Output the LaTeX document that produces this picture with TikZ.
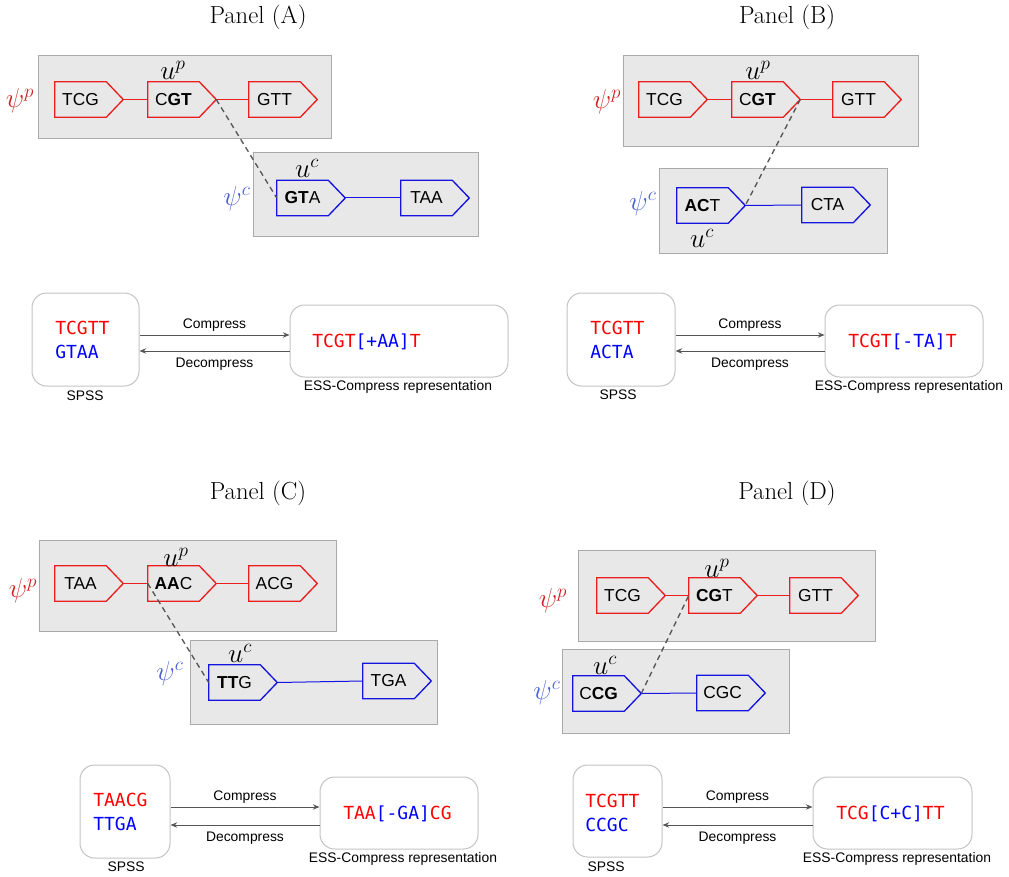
\RequirePackage{fix-cm}
\documentclass[tikz,border=0pt]{standalone}
\usepackage{fontspec}
\newfontfamily\arialf{Liberation Sans}
\newfontfamily\monof{DejaVu Sans Mono}
\usetikzlibrary{arrows.meta,calc}
\definecolor{pred}{RGB}{235,30,30}
\definecolor{pblue}{RGB}{20,20,225}
\definecolor{psired}{RGB}{205,35,35}
\definecolor{psiblue}{RGB}{75,95,215}
\definecolor{boxgray}{RGB}{232,232,232}
\definecolor{boxline}{RGB}{170,170,170}
\definecolor{rndline}{RGB}{195,195,195}
\definecolor{arrgray}{RGB}{85,85,85}
\definecolor{tred}{RGB}{255,0,0}
\definecolor{tblue}{RGB}{0,0,255}
\tikzset{
  grp/.style={fill=boxgray,draw=boxline,line width=0.75pt},
  pbody/.style={rectangle,minimum width=38.25pt,minimum height=26.25pt,inner sep=0pt,font=\arialf\fontsize{13}{15}\selectfont},
  pline/.style={line width=1pt,line join=miter},
  conn/.style={line width=0.75pt},
  dashline/.style={draw=arrgray,line width=1pt,dash pattern=on 4pt off 3pt},
  titlef/.style={font=\fontsize{18.5}{22}\selectfont},
  mathlbl/.style={font=\fontsize{20.5}{24}\selectfont,inner sep=0pt},
  rbox/.style={draw=rndline,line width=0.75pt,rounded corners=11pt},
  seqtxt/.style={anchor=west,align=left,inner sep=0pt,font=\monof\fontsize{13.5}{18}\selectfont},
  lbl/.style={font=\arialf\fontsize{10.4}{12}\selectfont,inner sep=0pt},
  arr/.style={draw=arrgray,line width=0.75pt,-{Stealth[length=5pt,width=4pt]}},
}
\newcommand{\pent}[4]{%
  \node[pbody] (#1) at (#2) {#4};
  \coordinate (#1-tip) at ([xshift=12.75pt]#1.east);
  \draw[#3,pline] (#1.north west) -- (#1.north east) -- (#1-tip) -- (#1.south east) -- (#1.south west) -- cycle;
}
\begin{document}
\begin{tikzpicture}[x=0.75pt,y=-0.75pt]
\useasboundingbox (0,0) rectangle (1009,877);
% ---------------- Panel A ----------------
\node[titlef] (tA) at (258,17) {Panel (A)};
\fill[grp] (38,56) rectangle (331,139);
\fill[grp] (253,153) rectangle (478,237);
\pent{a1}{80.5,99.5}{pred}{TCG}
\pent{a2}{173.5,99.5}{pred}{C\textbf{GT}}
\pent{a3}{274.5,99.5}{pred}{GTT}
\pent{a4}{302.5,198}{pblue}{\textbf{GT}A}
\pent{a5}{426.5,198}{pblue}{TAA}
\draw[pred,conn] (a1-tip) -- (a2.west);
\draw[pred,conn] (a2-tip) -- (a3.west);
\draw[pblue,conn] (a4-tip) -- (a5.west);
\draw[dashline] (a2-tip) -- (a4.west);
\node[mathlbl] (aup) at (173,70) {$u^p$};
\node[mathlbl] (auc) at (307,168) {$u^c$};
\node[mathlbl,text=psired] (apsip) at (20,101) {$\psi^p$};
\node[mathlbl,text=psiblue] (apsic) at (237,199) {$\psi^c$};
\node[rbox,minimum width=80.25pt,minimum height=69.75pt] (aS) at (85.5,339.5) {};
\node[seqtxt] (aSt) at (55,340) {\textcolor{tred}{TCGTT}\\\textcolor{tblue}{GTAA}};
\node[rbox,minimum width=163.5pt,minimum height=54pt] (aE) at (399,341) {};
\node[seqtxt] (aEt) at (312,342) {\textcolor{tred}{TCGT}\textcolor{tblue}{[+AA]}\textcolor{tred}{T}};
\draw[arr] (aS.east |- 0,335) -- node[lbl,above=2pt] (ac) {Compress} (aE.west |- 0,335);
\draw[arr] (aE.west |- 0,351) -- node[lbl,below=4.5pt] (ad) {Decompress} (aS.east |- 0,351);
\node[lbl] (aSl) at (85,396) {SPSS};
\node[lbl] (aEl) at (398,387) {ESS-Compress representation};
% ---------------- Panel B ----------------
\node[titlef] (tB) at (787,17) {Panel (B)};
\fill[grp] (623,56) rectangle (918,147);
\fill[grp] (659,169) rectangle (887,253);
\pent{b1}{664.5,99.5}{pred}{TCG}
\pent{b2}{757.5,99.5}{pred}{C\textbf{GT}}
\pent{b3}{858.5,99.5}{pred}{GTT}
\pent{b4}{702.5,205.5}{pblue}{\textbf{AC}T}
\pent{b5}{827.5,205}{pblue}{CTA}
\draw[pred,conn] (b1-tip) -- (b2.west);
\draw[pred,conn] (b2-tip) -- (b3.west);
\draw[pblue,conn] (b4-tip) -- (b5.west);
\draw[dashline] (b2-tip) -- (b4-tip);
\node[mathlbl] (bup) at (758,70) {$u^p$};
\node[mathlbl] (buc) at (702,238) {$u^c$};
\node[mathlbl,text=psired] (bpsip) at (607,102) {$\psi^p$};
\node[mathlbl,text=psiblue] (bpsic) at (643,204) {$\psi^c$};
\node[rbox,minimum width=81pt,minimum height=69.75pt] (bS) at (621,339.5) {};
\node[seqtxt] (bSt) at (590,340) {\textcolor{tred}{TCGTT}\\\textcolor{tblue}{ACTA}};
\node[rbox,minimum width=118.5pt,minimum height=54pt] (bE) at (904,341) {};
\node[seqtxt] (bEt) at (848,342) {\textcolor{tred}{TCGT}\textcolor{tblue}{[-TA]}\textcolor{tred}{T}};
\draw[arr] (bS.east |- 0,335) -- node[lbl,above=2pt] (bc) {Compress} (bE.west |- 0,335);
\draw[arr] (bE.west |- 0,351) -- node[lbl,below=4.5pt] (bd) {Decompress} (bS.east |- 0,351);
\node[lbl] (bSl) at (618,395) {SPSS};
\node[lbl] (bEl) at (909,387) {ESS-Compress representation};
% ---------------- Panel C ----------------
\node[titlef] (tC) at (258,493) {Panel (C)};
\fill[grp] (39,540) rectangle (336,631);
\fill[grp] (190,640) rectangle (437,724);
\pent{c1}{80.5,583.5}{pred}{TAA}
\pent{c2}{173.5,583.5}{pred}{\textbf{AA}C}
\pent{c3}{274.5,583.5}{pred}{ACG}
\pent{c4}{234.5,682.5}{pblue}{\textbf{TT}G}
\pent{c5}{388.5,681}{pblue}{TGA}
\draw[pred,conn] (c1-tip) -- (c2.west);
\draw[pred,conn] (c2-tip) -- (c3.west);
\draw[pblue,conn] (c4-tip) -- (c5.west);
\draw[dashline] (c2.west) -- (c4.west);
\node[mathlbl] (cup) at (176,557) {$u^p$};
\node[mathlbl] (cuc) at (240,653) {$u^c$};
\node[mathlbl,text=psired] (cpsip) at (23,591) {$\psi^p$};
\node[mathlbl,text=psiblue] (cpsic) at (170,674) {$\psi^c$};
\node[rbox,minimum width=67.5pt,minimum height=69.75pt] (cS) at (125,811.5) {};
\node[seqtxt] (cSt) at (93,812) {\textcolor{tred}{TAACG}\\\textcolor{tblue}{TTGA}};
\node[rbox,minimum width=118.5pt,minimum height=54pt] (cE) at (399,813) {};
\node[seqtxt] (cEt) at (343,814) {\textcolor{tred}{TAA}\textcolor{tblue}{[-GA]}\textcolor{tred}{CG}};
\draw[arr] (cS.east |- 0,807) -- node[lbl,above=2pt] (cc) {Compress} (cE.west |- 0,807);
\draw[arr] (cE.west |- 0,825) -- node[lbl,below=4.5pt] (cd) {Decompress} (cS.east |- 0,825);
\node[lbl] (cSl) at (126,867) {SPSS};
\node[lbl] (cEl) at (403,859) {ESS-Compress representation};
% ---------------- Panel D ----------------
\node[titlef] (tD) at (787,493) {Panel (D)};
\fill[grp] (578,550) rectangle (875,641);
\fill[grp] (562,649) rectangle (789,733);
\pent{d1}{622.5,595.5}{pred}{TCG}
\pent{d2}{714.5,595.5}{pred}{\textbf{CG}T}
\pent{d3}{815.5,595.5}{pred}{GTT}
\pent{d4}{598.5,693.5}{pblue}{C\textbf{CG}}
\pent{d5}{722.5,693}{pblue}{CGC}
\draw[pred,conn] (d1-tip) -- (d2.west);
\draw[pred,conn] (d2-tip) -- (d3.west);
\draw[pblue,conn] (d4-tip) -- (d5.west);
\draw[dashline] (d4-tip) -- (d2.west);
\node[mathlbl] (dup) at (717,568) {$u^p$};
\node[mathlbl] (duc) at (605,665) {$u^c$};
\node[mathlbl,text=psired] (dpsip) at (553,601) {$\psi^p$};
\node[mathlbl,text=psiblue] (dpsic) at (547,693) {$\psi^c$};
\node[rbox,minimum width=66.75pt,minimum height=69pt] (dS) at (617.5,811) {};
\node[seqtxt] (dSt) at (585,813) {\textcolor{tred}{TCGTT}\\\textcolor{tblue}{CCGC}};
\node[rbox,minimum width=119.25pt,minimum height=54pt] (dE) at (892.5,813) {};
\node[seqtxt] (dEt) at (836,814) {\textcolor{tred}{TCG}\textcolor{tblue}{[C+C]}\textcolor{tred}{TT}};
\draw[arr] (dS.east |- 0,807) -- node[lbl,above=2pt] (dc) {Compress} (dE.west |- 0,807);
\draw[arr] (dE.west |- 0,825) -- node[lbl,below=4.5pt] (dd) {Decompress} (dS.east |- 0,825);
\node[lbl] (dSl) at (606,867) {SPSS};
\node[lbl] (dEl) at (897,859) {ESS-Compress representation};
\end{tikzpicture}
\end{document}
